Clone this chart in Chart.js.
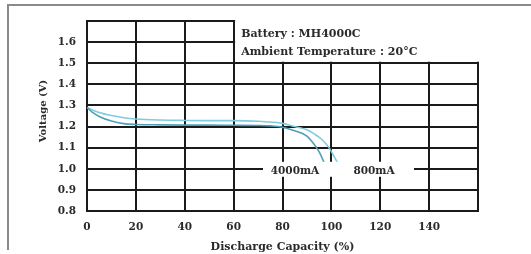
<!DOCTYPE html>
<html>
<head>
<meta charset="utf-8">
<script src="https://cdn.jsdelivr.net/npm/chart.js@4/dist/chart.umd.min.js"></script>
<style>
  html, body { margin: 0; padding: 0; background: #fff; }
  #wrap { width: 531px; height: 254px; position: relative; }
</style>
</head>
<body>
<div id="wrap"><canvas id="dischargeChart"></canvas></div>
<script>
// Discharge curves, MH4000C at 20 C
const cap4000 = [0, 2, 5, 10, 15, 20, 30, 40, 50, 60, 70, 75, 80, 85, 90, 93, 95, 97, 98];
const volt4000 = [1.29, 1.27, 1.248, 1.226, 1.214, 1.21, 1.208, 1.207, 1.207, 1.206, 1.205, 1.203, 1.197, 1.18, 1.155, 1.115, 1.08, 1.03, 1.0];
const cap800 = [0, 2, 5, 10, 15, 20, 30, 40, 50, 60, 70, 80, 85, 90, 93, 96, 99, 102, 104.5];
const volt800 = [1.29, 1.28, 1.267, 1.252, 1.242, 1.236, 1.231, 1.229, 1.228, 1.228, 1.225, 1.215, 1.2, 1.185, 1.165, 1.14, 1.1, 1.04, 1.0];
const xTickLabels = ['0', '20', '40', '60', '80', '100', '120', '140'];
const infoLines = ['Battery : MH4000C', 'Ambient Temperature : 20\u00B0C'];
const curveLabels = ['4000mA', '800mA'];
const yTitle = 'Voltage (V)';

const serif = '"DejaVu Serif", "Liberation Serif", serif';

function toPoints(xs, ys) {
  return xs.map((x, i) => ({ x: x, y: ys[i] }));
}

// info box, curve labels, y title and outer frame
const labelPlugin = {
  id: 'labels',
  afterDraw(chart) {
    const ctx = chart.ctx;
    const xs = chart.scales.x, ys = chart.scales.y;
    const area = chart.chartArea;
    ctx.save();
    // info box top right
    const bx = xs.getPixelForValue(60) + 1.5;
    const by = ys.getPixelForValue(1.5) - 1.5;
    ctx.fillStyle = '#fff';
    ctx.fillRect(bx, 0, 531 - bx, by);
    ctx.fillStyle = '#2a2a2a';
    ctx.font = 'bold 11px ' + serif;
    ctx.textBaseline = 'middle';
    ctx.textAlign = 'left';
    ctx.fillText(infoLines[0], bx + 6, 34);
    ctx.fillText(infoLines[1], bx + 6, 52);
    // curve label strip on the 1.0 line
    const y1 = ys.getPixelForValue(1.0);
    ctx.fillStyle = '#fff';
    ctx.fillRect(263, y1 - 7, 151, 15);
    ctx.fillStyle = '#2a2a2a';
    ctx.font = 'bold 10.5px ' + serif;
    ctx.textAlign = 'center';
    ctx.fillText(curveLabels[0], 295, y1 + 2);
    ctx.fillText(curveLabels[1], 374, y1 + 2);
    // y axis title
    ctx.save();
    ctx.translate(43, (area.top + area.bottom) / 2 - 5);
    ctx.rotate(-Math.PI / 2);
    ctx.font = 'bold 10px ' + serif;
    ctx.fillText(yTitle, 0, 0);
    ctx.restore();
    // frame
    ctx.strokeStyle = '#8a8a8a';
    ctx.lineWidth = 2;
    ctx.beginPath();
    ctx.moveTo(531, 5);
    ctx.lineTo(8, 5);
    ctx.lineTo(8, 250);
    ctx.stroke();
    ctx.restore();
  }
};

const ctx = document.getElementById('dischargeChart');
new Chart(ctx, {
  type: 'line',
  data: {
    datasets: [
      {
        label: curveLabels[0],
        data: toPoints(cap4000, volt4000),
        borderColor: '#4f9fbb',
        borderWidth: 1.6,
        pointRadius: 0,
        cubicInterpolationMode: 'monotone',
        fill: false
      },
      {
        label: curveLabels[1],
        data: toPoints(cap800, volt800),
        borderColor: '#7fcbe0',
        borderWidth: 1.6,
        pointRadius: 0,
        cubicInterpolationMode: 'monotone',
        fill: false
      }
    ]
  },
  options: {
    responsive: true,
    maintainAspectRatio: false,
    animation: false,
    layout: { padding: { top: 21, right: 53, left: 0, bottom: 0 } },
    plugins: {
      legend: { display: false },
      tooltip: { enabled: false }
    },
    scales: {
      x: {
        type: 'linear',
        min: 0,
        max: 160,
        afterFit: function(axis) { axis.height = 43; },
        ticks: {
          stepSize: 20,
          padding: 10,
          color: '#2a2a2a',
          font: { family: serif, size: 10.5, weight: 'bold' },
          maxRotation: 0,
          callback: function(value) {
            const i = value / 20;
            return xTickLabels[i] !== undefined ? xTickLabels[i] : '';
          }
        },
        grid: { color: '#1a1a1a', lineWidth: 2, drawTicks: false },
        border: { color: '#1a1a1a', width: 2 },
        title: {
          display: true,
          text: 'Discharge Capacity (%)',
          color: '#2a2a2a',
          font: { family: serif, size: 11, weight: 'bold' },
          padding: { top: 3, bottom: 0 }
        }
      },
      y: {
        min: 0.8,
        max: 1.7,
        afterFit: function(axis) { axis.width = 87; },
        ticks: {
          stepSize: 0.1,
          padding: 11,
          color: '#2a2a2a',
          font: { family: serif, size: 10.5, weight: 'bold' },
          callback: function(value) {
            const v = Math.round(value * 10) / 10;
            return v > 1.65 ? '' : v.toFixed(1);
          }
        },
        grid: { color: '#1a1a1a', lineWidth: 2, drawTicks: false },
        border: { color: '#1a1a1a', width: 2 }
      }
    }
  },
  plugins: [labelPlugin]
});
</script>
</body>
</html>
